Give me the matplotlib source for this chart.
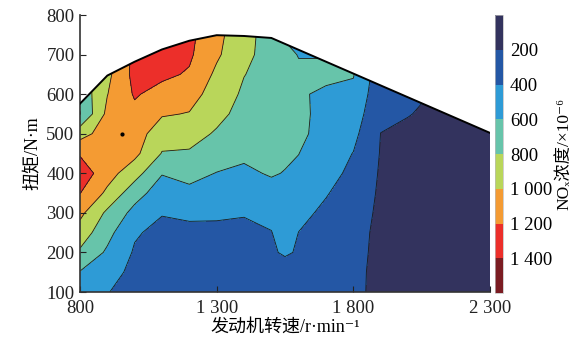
import numpy as np
import matplotlib.pyplot as plt
from matplotlib.patches import Polygon

plt.rcParams['font.family'] = ['Liberation Serif', 'Noto Sans CJK SC', 'DejaVu Serif', 'DejaVu Sans']

# operating points of the NOx map
speed = [800, 900, 1000, 1100, 1200, 1300, 1400, 1500, 1550, 1600, 1700, 1800, 1900, 2000, 2100, 2200, 2300]
torque = [100, 150, 200, 250, 300, 350, 400, 450, 500, 550, 600, 650, 700, 750]

# NOx concentration (x10^-6) along torque for each speed
nox_800 = [480, 590, 770, 910, 1050, 1205, 1320, 1180, 920, 590, 650, 700, 700, 700]
nox_900 = [410, 490, 570, 660, 760, 960, 1080, 1100, 1100, 1050, 995, 950, 900, 900]
nox_1000 = [300, 340, 380, 420, 540, 680, 880, 1050, 1100, 1150, 1220, 1260, 1260, 1260]
nox_1100 = [260, 270, 300, 350, 410, 500, 610, 790, 880, 1020, 1130, 1240, 1300, 1300]
nox_1200 = [240, 250, 290, 360, 430, 560, 650, 780, 870, 990, 1080, 1180, 1230, 1250]
nox_1300 = [220, 230, 260, 340, 440, 520, 595, 680, 780, 850, 910, 960, 1030, 1050]
nox_1400 = [230, 230, 250, 330, 420, 490, 560, 640, 700, 740, 770, 805, 850, 880]
nox_1500 = [230, 250, 360, 395, 440, 520, 620, 650, 680, 700, 720, 730, 720, 700]
nox_1550 = [240, 250, 440, 470, 500, 530, 590, 640, 660, 680, 700, 690, 660, 570]
nox_1600 = [240, 260, 370, 398, 440, 480, 570, 602, 640, 630, 620, 640, 590, 540]
nox_1700 = [260, 280, 300, 330, 370, 410, 460, 500, 530, 560, 570, 640, 590, 580]
nox_1800 = [250, 250, 260, 275, 300, 330, 360, 395, 450, 500, 560, 610, 620, 620]
nox_1900 = [140, 145, 150, 150, 160, 170, 180, 190, 198, 240, 260, 280, 300, 300]
nox_2000 = [120, 120, 120, 120, 125, 125, 130, 130, 150, 210, 240, 260, 270, 270]
nox_2100 = [110, 110, 110, 110, 110, 110, 110, 110, 110, 150, 190, 200, 210, 210]
nox_2200 = [100, 100, 100, 100, 100, 100, 100, 100, 100, 100, 100, 100, 100, 100]
nox_2300 = [100, 100, 100, 100, 100, 100, 100, 100, 100, 100, 100, 100, 100, 100]

# full-load torque curve
curve_speed = [800, 900, 1000, 1100, 1200, 1300, 1400, 1500, 1600, 1700, 1800, 1900, 2000, 2100, 2200, 2300]
curve_torque = [576, 647, 682, 713, 735, 749, 747, 742, 712, 682, 652, 622, 592, 562, 532, 502]

levels = [0, 200, 400, 600, 800, 1000, 1200, 1400, 1600]
colors = ['#33335e', '#2457a5', '#2e9bd6', '#67c4aa', '#b9d65a', '#f49b33', '#ec2f2a', '#7b1c22']
cbar_ticks = [200, 400, 600, 800, 1000, 1200, 1400]
cbar_labels = ['200', '400', '600', '800', '1 000', '1 200', '1 400']

Z = np.column_stack([nox_800, nox_900, nox_1000, nox_1100, nox_1200, nox_1300, nox_1400,
                     nox_1500, nox_1550, nox_1600, nox_1700, nox_1800, nox_1900, nox_2000,
                     nox_2100, nox_2200, nox_2300])
S, T = np.meshgrid(speed, torque)

fig = plt.figure(figsize=(5.78, 3.45), dpi=100)
ax = fig.add_axes([0.1384, 0.1536, 0.7094, 0.8029])
cax = fig.add_axes([0.8564, 0.1507, 0.0138, 0.8058])

cf = ax.contourf(S, T, Z, levels=levels, colors=colors)
cl = ax.contour(S, T, Z, levels=levels[1:-1], colors='#1a1a1a', linewidths=0.6)

# keep the map below the full-load curve
outline = list(zip(curve_speed, curve_torque))[::-1] + [(800, 100), (2300, 100)]
clip = Polygon(outline, closed=True, transform=ax.transData, facecolor='none', edgecolor='none')
cf.set_clip_path(clip)
cl.set_clip_path(clip)

ax.plot(curve_speed, curve_torque, color='black', linewidth=1.4, zorder=5)
ax.plot([955], [500], marker='o', markersize=2, color='black', zorder=6)

ax.set_xlim(800, 2300)
ax.set_ylim(100, 800)
ax.set_xticks([800, 1300, 1800, 2300])
ax.set_xticklabels(['800', '1 300', '1 800', '2 300'])
ax.set_yticks(np.arange(100, 801, 100))
ax.tick_params(direction='in', length=4, width=0.8, labelsize=13.5, colors='#222222')
ax.tick_params(axis='x', pad=6)
ax.tick_params(axis='y', pad=4)
for side in ['top', 'right']:
    ax.spines[side].set_visible(False)
for side in ['left', 'bottom']:
    ax.spines[side].set_linewidth(1.2)
    ax.spines[side].set_color('#333333')

ax.set_xlabel('发动机转速/r·min⁻¹', fontsize=13, labelpad=1)
ax.set_ylabel('扭矩/N·m', fontsize=13, labelpad=3)

cbar = fig.colorbar(cf, cax=cax, ticks=cbar_ticks)
cbar.ax.set_yticklabels(cbar_labels)
cbar.ax.invert_yaxis()
cbar.ax.tick_params(length=0, labelsize=13.5, pad=5)
cbar.outline.set_linewidth(0.5)
cbar.outline.set_edgecolor('#bbbbbb')
cbar.set_label('NOₓ浓度/×10⁻⁶', fontsize=12.5, labelpad=4)

fig.savefig('out.png', dpi=100)
